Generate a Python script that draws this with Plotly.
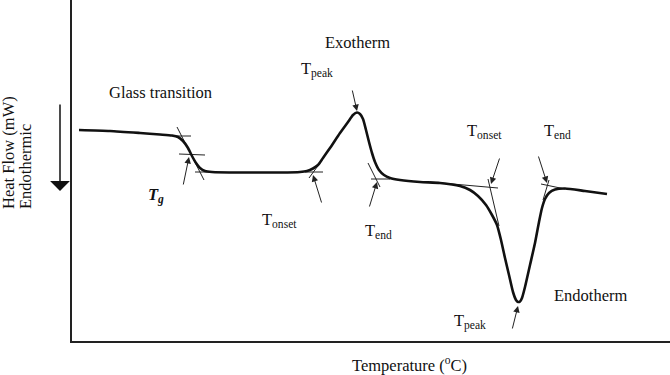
import plotly.graph_objects as go

# DSC curve (arbitrary units: temperature -> right, heat flow -> up)
temperature = [7, 38, 68, 88, 100, 106, 111, 116, 120, 124, 128, 133, 140, 168, 208, 228,
               235, 241, 246, 251, 258, 268, 276, 281, 285, 288, 291, 294, 297, 300, 303,
               307, 312, 318, 328, 348, 368, 388, 398, 406, 414, 420, 425, 429, 433, 437,
               441, 444, 446, 448, 450, 453, 458, 463, 467, 470, 473, 477, 483, 493, 513, 535]
heat_flow = [211, 210, 208, 206.5, 205.5, 204, 200, 193, 185, 178, 173, 170, 169, 168.5, 168.5, 169,
             170, 172.5, 176, 183, 193, 208, 219, 226, 228.5, 227, 222, 211, 199, 188, 179,
             171, 166, 163, 161, 159, 158, 155, 151, 145, 136, 126, 116, 101, 83, 66,
             49, 41, 39, 39.5, 43, 54, 76, 98, 119, 133, 142, 148, 151.5, 152.5, 150, 147]

# construction (tangent) lines: start/end pairs
tan_x0 = [105, 102, 107, 123, 233, 237, 299, 296, 358, 416, 469, 471]
tan_y0 = [214, 205, 187, 169, 169, 163, 162, 178, 159, 162, 157, 141]
tan_x1 = [132, 119, 133, 142, 251, 248, 318, 308, 426, 427, 493, 477]
tan_y1 = [161, 205, 186, 169, 169, 178, 162, 154, 153, 115, 152, 161]

# arrows: tail -> head
arr_tail_x = [111, 250, 280, 297, 428, 466, 440]
arr_tail_y = [155, 137, 252, 133, 184, 186, 11]
arr_head_x = [117, 241, 285, 305, 419, 475, 446]
arr_head_y = [184, 166, 230, 159, 157, 158, 35]

# labels
lab_text = ["Exotherm", "Glass transition", "T<sub>peak</sub>", "<b><i>T<sub>g</sub></i></b>",
            "T<sub>onset</sub>", "T<sub>end</sub>", "T<sub>onset</sub>", "T<sub>end</sub>",
            "Endotherm", "T<sub>peak</sub>"]
lab_x = [251, 35, 227, 74, 188, 291, 393, 470, 480, 380]
lab_y = [299, 249, 272, 146, 121, 110, 210, 210, 46, 20]

FONT = "Liberation Serif, Times New Roman, serif"
W, H = 670, 375
L, B = 72, 34
PW, PH = W - L, H - B

fig = go.Figure()

lx, ly = [], []
for a, b, c, d in zip(tan_x0, tan_y0, tan_x1, tan_y1):
    lx += [a, c, None]
    ly += [b, d, None]
fig.add_trace(go.Scatter(x=lx, y=ly, mode="lines",
                         line=dict(color="#222", width=1), hoverinfo="skip"))

fig.add_trace(go.Scatter(x=temperature, y=heat_flow, mode="lines",
                         line=dict(color="#111", width=2.6, shape="spline", smoothing=0.6),
                         hoverinfo="skip"))

annotations = []
for tx, ty, hx, hy in zip(arr_tail_x, arr_tail_y, arr_head_x, arr_head_y):
    annotations.append(dict(x=hx, y=hy, ax=tx, ay=ty, xref="x", yref="y", axref="x", ayref="y",
                            text="", showarrow=True, arrowhead=2, arrowsize=1.3,
                            arrowwidth=1, arrowcolor="#222", standoff=0))
for t, x, y in zip(lab_text, lab_x, lab_y):
    annotations.append(dict(x=x, y=y, xref="x", yref="y", text=t, showarrow=False,
                            xanchor="left", yanchor="middle",
                            font=dict(family=FONT, size=16.5, color="#111")))

# axis titles and the endothermic direction arrow
annotations.append(dict(x=(409 - L) / PW, y=(H - B - 364) / PH, xref="paper", yref="paper",
                        text="Temperature (<sup>o</sup>C)", showarrow=False,
                        xanchor="center", yanchor="middle",
                        font=dict(family=FONT, size=16.5, color="#111")))
annotations.append(dict(x=(8 - L) / PW, y=(H - B - 153) / PH, xref="paper", yref="paper",
                        text="Heat Flow (mW)", showarrow=False, textangle=-90,
                        xanchor="center", yanchor="middle",
                        font=dict(family=FONT, size=16.5, color="#111")))
annotations.append(dict(x=(25 - L) / PW, y=(H - B - 167) / PH, xref="paper", yref="paper",
                        text="Endothermic", showarrow=False, textangle=-90,
                        xanchor="center", yanchor="middle",
                        font=dict(family=FONT, size=16.5, color="#111")))
annotations.append(dict(x=(60 - L) / PW, y=(H - B - 191) / PH, xref="paper", yref="paper",
                        ax=0, ay=-88, text="", showarrow=True, arrowhead=1, arrowsize=2.2,
                        arrowwidth=1.5, arrowcolor="#111", standoff=0))

fig.update_layout(
    width=W, height=H, autosize=False,
    margin=dict(l=L, r=0, t=0, b=B),
    paper_bgcolor="white", plot_bgcolor="white",
    showlegend=False,
    xaxis=dict(range=[0, PW], showgrid=False, zeroline=False, showticklabels=False,
               ticks="", showline=True, linecolor="#222", linewidth=1.5, fixedrange=True),
    yaxis=dict(range=[0, PH], showgrid=False, zeroline=False, showticklabels=False,
               ticks="", showline=True, linecolor="#222", linewidth=1.5, fixedrange=True),
    annotations=annotations,
)

fig.write_html("out.html", config={"displayModeBar": False},
               post_script="document.body.style.margin='0';document.body.style.overflow='hidden';")
